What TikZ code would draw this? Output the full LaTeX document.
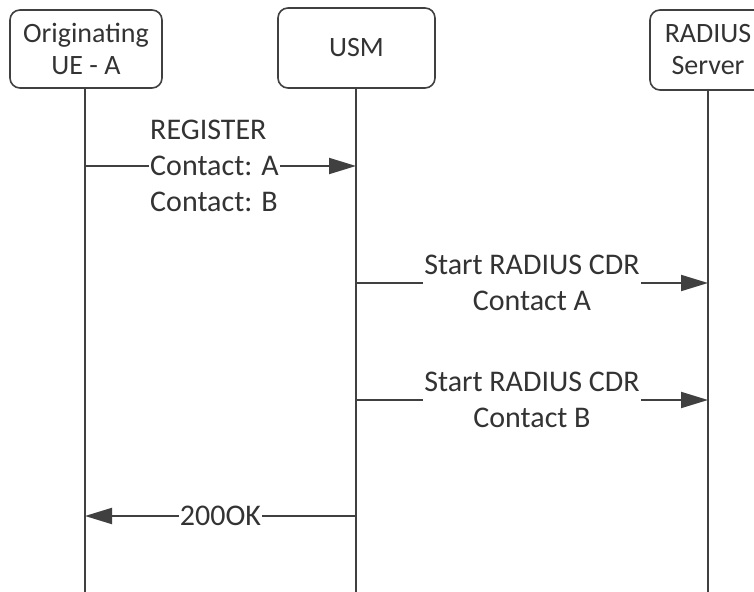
\documentclass[tikz,border=0pt]{standalone}
\usepackage{fontspec}
\setmainfont{Carlito}
\usetikzlibrary{arrows.meta}
\definecolor{lineclr}{HTML}{404040}
\definecolor{textclr}{HTML}{333333}
\begin{document}
\begin{tikzpicture}[x=0.5pt, y=-0.5pt, line width=1pt,
  actor node/.style={rectangle, rounded corners=5pt, draw=lineclr, line width=0.8pt, align=center, inner sep=0pt, text=textclr, font=\fontsize{14}{16}\selectfont},
  life line/.style={draw=lineclr, line width=1pt},
  msg/.style={draw=lineclr, line width=1pt, -{Triangle[length=13.5pt,width=8pt]}},
  msg label/.style={fill=white, inner sep=0.6pt, text=textclr, font=\fontsize{15}{18}\selectfont}]%
\useasboundingbox (0,0) rectangle (754,592);
\clip (0,0) rectangle (754,592);
\begin{scope}
\node[actor node, minimum width=76pt, minimum height=39pt] (ue) at (86,49) {Originating\\UE - A};
\node[actor node, minimum width=78.5pt, minimum height=40pt] (usm) at (356.5,48) {USM};
\node[actor node, minimum width=58pt, minimum height=40pt] (radius) at (708,50) {RADIUS\\Server};
%\node[actor node] () at (,) {};
\end{scope}
\begin{scope}
% lifelines
\coordinate (ueend) at (85,592);
\coordinate (usmend) at (356,592);
\coordinate (radend) at (708,592);
\draw[life line] (ue.south -| ueend) -- (ueend);
\draw[life line] (usm.south -| usmend) -- (usmend);
\draw[life line] (radius.south -| radend) -- (radend);
\end{scope}
\begin{scope}
% messages
\coordinate (ue1) at (85,166);   \coordinate (usm1) at (356,166);
\coordinate (usm2) at (356,283); \coordinate (rad2) at (708,283);
\coordinate (usm3) at (356,400); \coordinate (rad3) at (708,400);
\coordinate (usm4) at (356,516); \coordinate (ue4) at (85,516);
\draw[msg] (ue1) -- node[msg label, align=left, xshift=-3pt]{REGISTER\\Contact: A\\Contact: B} (usm1);
\draw[msg] (usm2) -- node[msg label, align=center]{Start RADIUS CDR\\Contact A} (rad2);
\draw[msg] (usm3) -- node[msg label, align=center]{Start RADIUS CDR\\Contact B} (rad3);
\draw[msg] (usm4) -- node[msg label]{200OK} (ue4);
%\draw[msg] () -- node[msg label]{} ();
\end{scope}
\end{tikzpicture}
\end{document}
